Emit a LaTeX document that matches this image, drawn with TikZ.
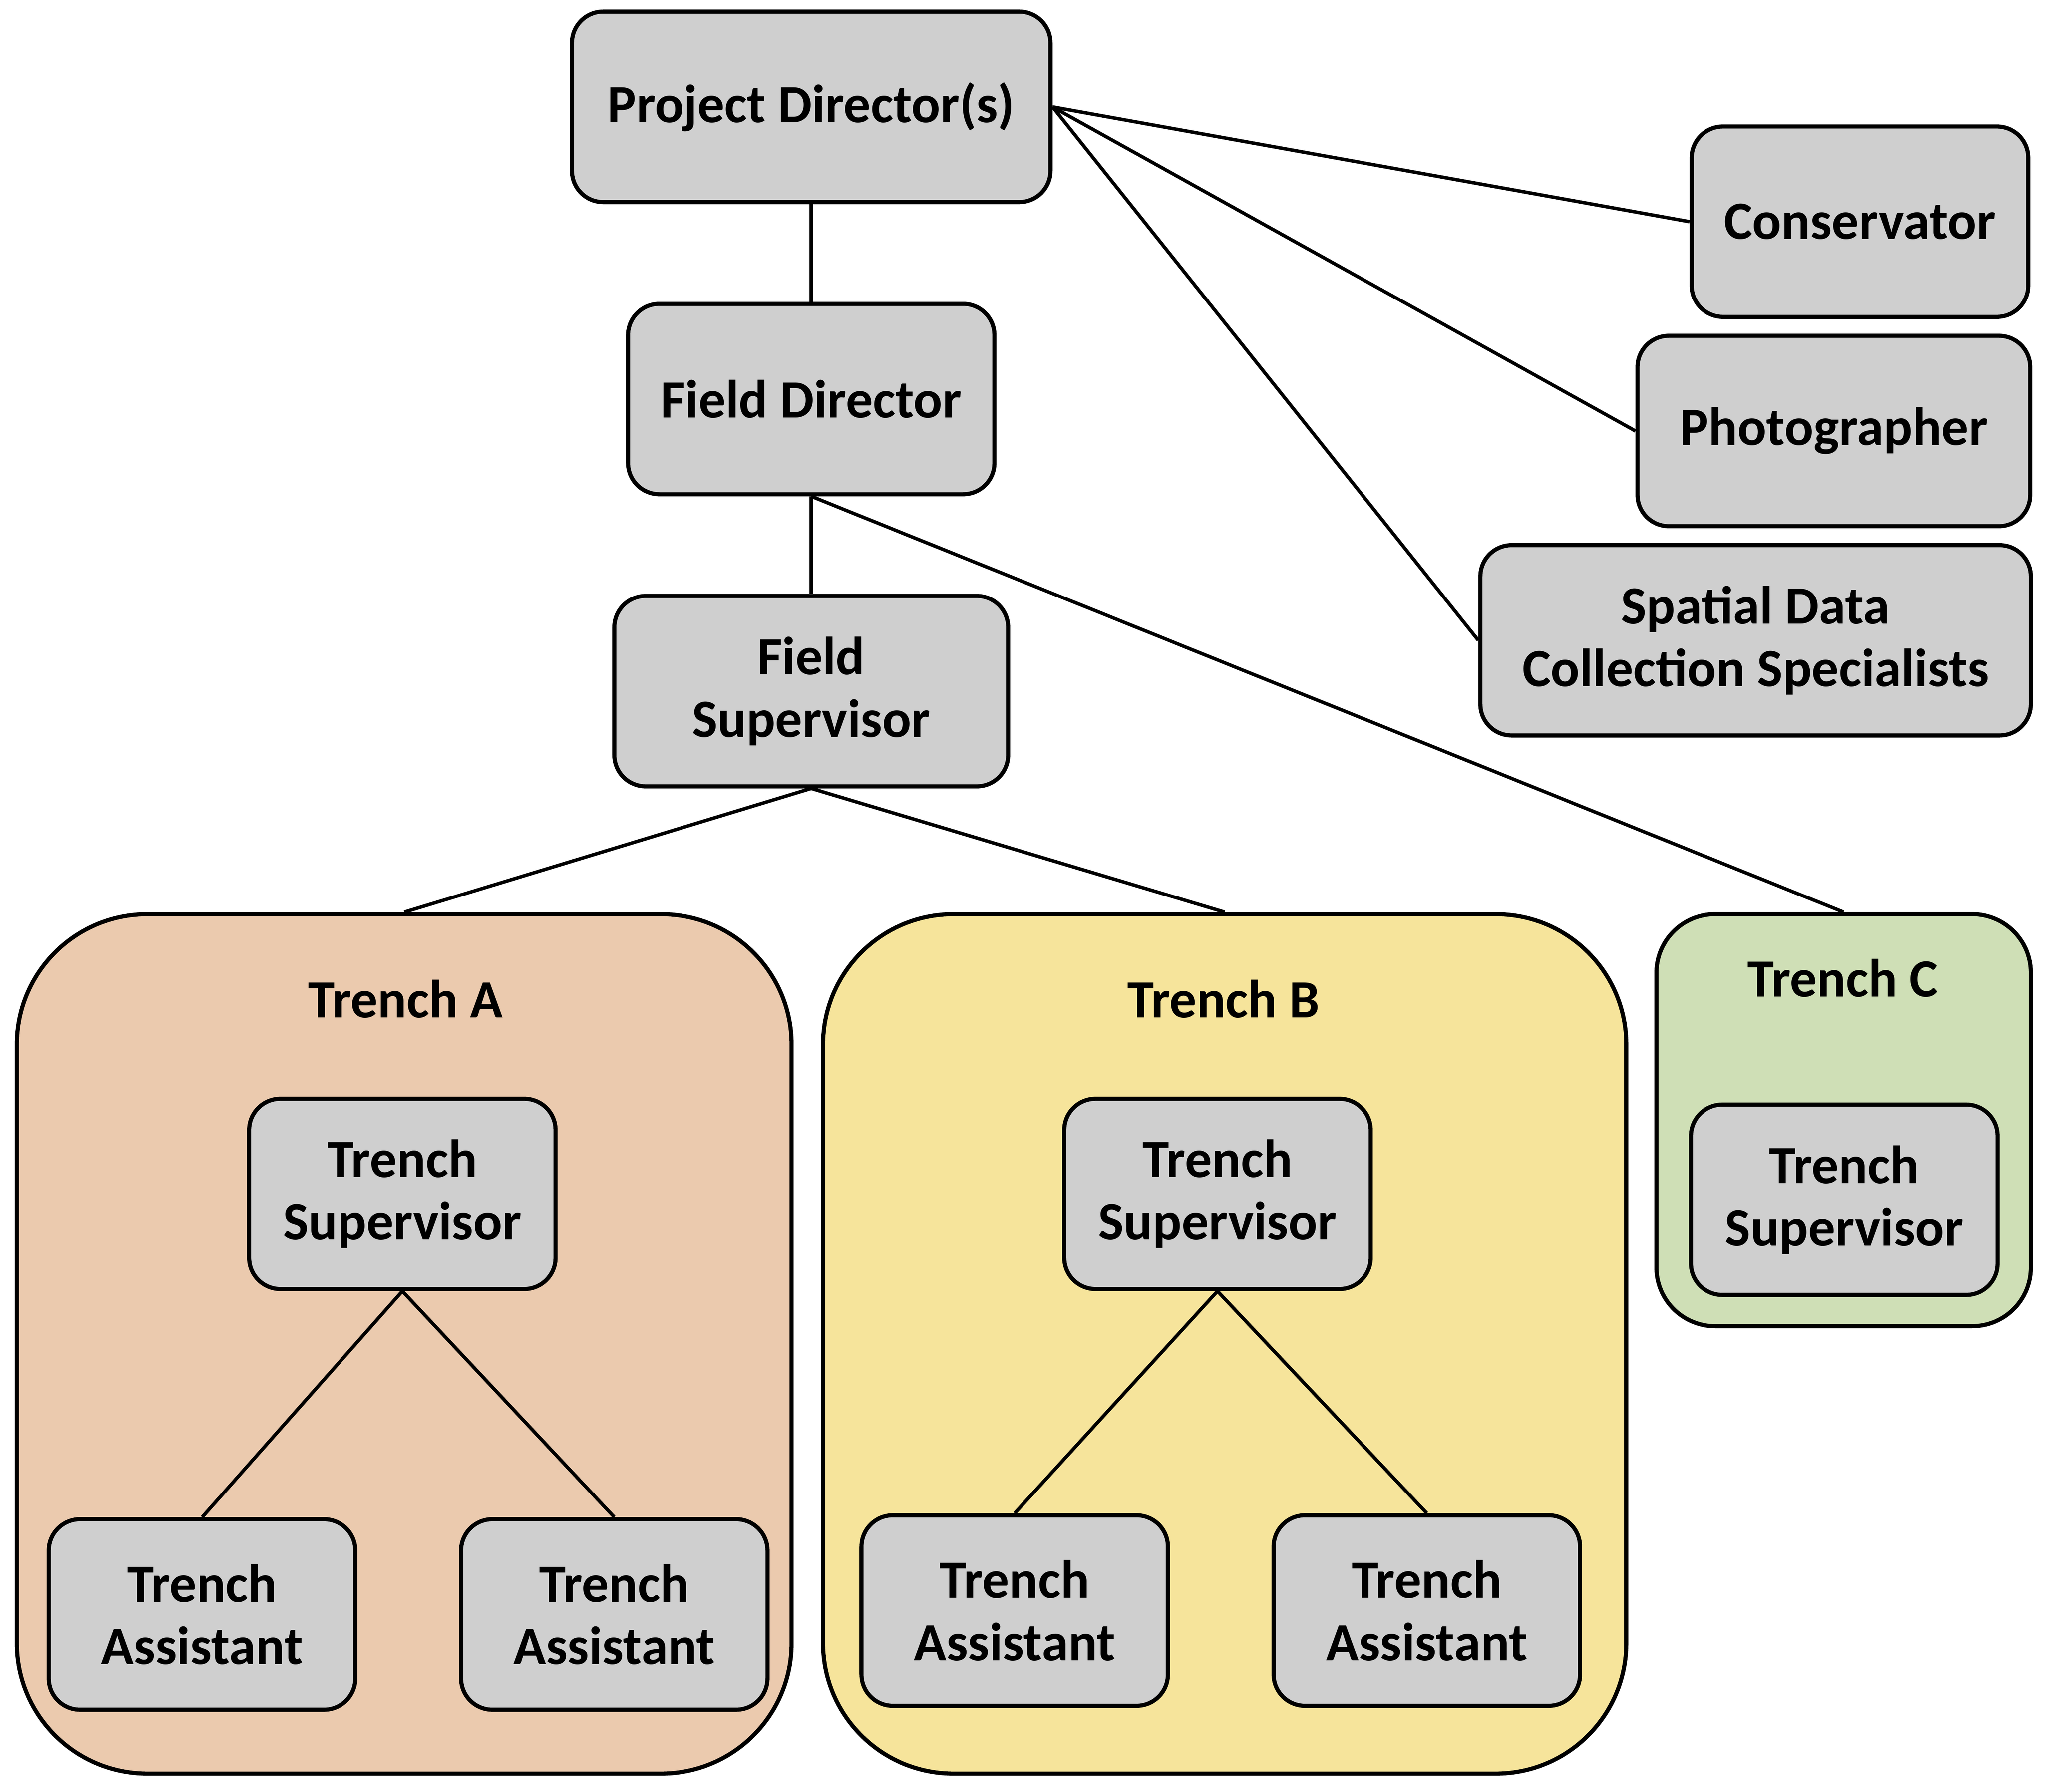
\documentclass[tikz,border=0pt]{standalone}
\usepackage{fontspec}
\setmainfont{Carlito}
\usetikzlibrary{positioning}
\definecolor{rolegray}{HTML}{CFCFCF}
\definecolor{peachA}{HTML}{EBCAAE}
\definecolor{yellowB}{HTML}{F6E49B}
\definecolor{greenC}{HTML}{CFDFB6}
\tikzset{
	every path/.style={line width=1.5pt},
	align=center,
	role/.style={
		draw,
		rectangle,
		rounded corners=0.48cm,
		fill=rolegray,
		line width=1.8pt,
		minimum height=2.92cm,
		inner sep=0pt,
	},
	trench/.style={
		draw,
		rectangle,
		rounded corners=2cm,
		line width=1.8pt,
		inner sep=0pt,
	},
	trenchtitle/.style={
		inner sep=0pt,
	},
	link/.style={
		line width=1.5pt,
	},
}

\begin{document}
\begin{tikzpicture}[
		x=0.02cm, y=-0.02cm,
		font=\fontsize{23.5}{27.3}\selectfont\bfseries,
		tsup/.style={role, minimum width=4.7cm},
		tasst/.style={role, minimum width=4.7cm},
	]
		\useasboundingbox (0,0) rectangle (1568,1374);

		\node[role, minimum width=7.34cm] 	(pd) at (622,82) {Project Director(s)};
		\node[role, minimum width=5.62cm] 	(fd) at (622,306) {Field Director};
		\node[role, minimum width=6.04cm] 	(fs) at (622,530) {Field\\Supervisor};

		\node[role, minimum width=5.16cm] 	(cons) at (1426,170) {Conservator};
		\node[role, minimum width=6.02cm] 	(photo) at (1406,330.5) {Photographer};
		\node[role, minimum width=8.44cm] 	(spatial) at (1346,491) {Spatial Data\\Collection Specialists};

		\draw[link] 		(pd.south) -- (fd.north);
		\draw[link] 		(fd.south) -- (fs.north);
		\draw[link] 		(pd.east) -- (cons.west);
		\draw[link] 		(pd.east) -- (photo.west);
		\draw[link] 		(pd.east) -- (spatial.west);

%*********

		\node[trench, fill=peachA, minimum width=11.88cm, minimum height=13.18cm] 	(trenchA) at (310,1030.5) {};
		\node[trenchtitle] 		(titleA) at (311,766) {Trench A};

		\node[tsup] 			(supA) at (308.5,915.5) {Trench\\Supervisor};
		\node[tasst] 			(asstA1) at (155,1238) {Trench\\Assistant};
		\node[tasst] 			(asstA2) at (471,1238) {Trench\\Assistant};

		\draw[link] 		(supA.south) -- (asstA1.north);
		\draw[link] 		(supA.south) -- (asstA2.north);

%*********

		\node[trench, fill=yellowB, minimum width=12.32cm, minimum height=13.18cm] 	(trenchB) at (939,1030.5) {};
		\node[trenchtitle] 		(titleB) at (938,766) {Trench B};

		\node[tsup] 			(supB) at (933.5,915.5) {Trench\\Supervisor};
		\node[tasst] 			(asstB1) at (778,1235) {Trench\\Assistant};
		\node[tasst] 			(asstB2) at (1094,1235) {Trench\\Assistant};

		\draw[link] 		(supB.south) -- (asstB1.north);
		\draw[link] 		(supB.south) -- (asstB2.north);

%*********

		\node[trench, fill=greenC, rounded corners=0.9cm, minimum width=5.74cm, minimum height=6.32cm] 	(trenchC) at (1413.5,859) {};
		\node[trenchtitle] 		(titleC) at (1413,750) {Trench C};

		\node[tsup] 			(supC) at (1414,920) {Trench\\Supervisor};

%*********

		\draw[link] 		(fs.south) -- (trenchA.north);
		\draw[link] 		(fs.south) -- (trenchB.north);
		\draw[link] 		(fd.south) -- (trenchC.north);

	\end{tikzpicture}
\end{document}
